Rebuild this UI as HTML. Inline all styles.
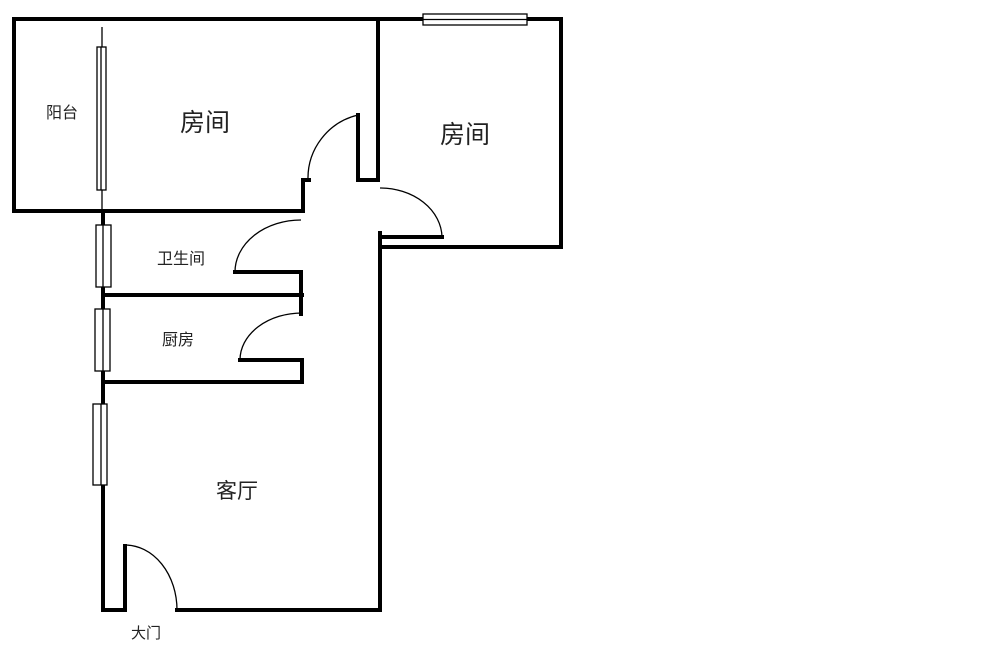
<!DOCTYPE html>
<html><head><meta charset="utf-8"><style>
html,body{margin:0;padding:0;background:#fff;width:1000px;height:664px;overflow:hidden}
svg{display:block}
text{font-family:"Liberation Sans","Noto Sans CJK SC",sans-serif;fill:#222}
</style></head><body>
<svg width="1000" height="664" viewBox="0 0 1000 664" xmlns="http://www.w3.org/2000/svg">
<g stroke="#000" stroke-width="4" fill="none" stroke-linecap="square">
<!-- top wall -->
<line x1="14" y1="19" x2="423" y2="19"/>
<line x1="527" y1="19" x2="561" y2="19"/>
<!-- balcony -->
<line x1="14" y1="19" x2="14" y2="211"/>
<line x1="14" y1="211" x2="302" y2="211"/>
<!-- bedroom1 door jamb -->
<line x1="303" y1="180" x2="303" y2="211"/>
<line x1="303" y1="180" x2="309" y2="180"/>
<line x1="358" y1="115" x2="358" y2="180"/>
<line x1="358" y1="180" x2="378" y2="180"/>
<line x1="378" y1="19" x2="378" y2="180"/>
<!-- bedroom2 -->
<line x1="561" y1="19" x2="561" y2="247"/>
<line x1="380" y1="247" x2="561" y2="247"/>
<line x1="380" y1="237" x2="442" y2="237"/>
<line x1="380" y1="233" x2="380" y2="610"/>
<!-- left wall -->
<line x1="103" y1="211" x2="103" y2="610"/>
<!-- bath/kitchen -->
<line x1="103" y1="295" x2="302" y2="295"/>
<line x1="103" y1="382" x2="302" y2="382"/>
<line x1="235" y1="272" x2="301" y2="272"/>
<line x1="301" y1="272" x2="301" y2="314"/>
<line x1="240" y1="360" x2="302" y2="360"/>
<line x1="302" y1="360" x2="302" y2="382"/>
<!-- bottom -->
<line x1="103" y1="610" x2="125" y2="610"/>
<line x1="125" y1="546" x2="125" y2="610"/>
<line x1="177" y1="610" x2="380" y2="610"/>
</g>
<g stroke="#000" stroke-width="1.3" fill="none">
<line x1="102" y1="27" x2="102" y2="211"/>
<!-- door arcs -->
<path d="M308 180 A65 65 0 0 1 358 115"/>
<path d="M380 188 A62 50 0 0 1 442 237"/>
<path d="M235 272 A66 52 0 0 1 301 220"/>
<path d="M240 360 A62 47 0 0 1 302 313"/>
<path d="M125 545 A52 65 0 0 1 177 610"/>
</g>
<!-- windows -->
<g stroke="#000" stroke-width="1.3" fill="#fff">
<rect x="97" y="47" width="9" height="143"/>
<rect x="96" y="225" width="15" height="62"/>
<rect x="95" y="309" width="15" height="62"/>
<rect x="93" y="404" width="14" height="81"/>
<rect x="423" y="14" width="104" height="11"/>
</g>
<g stroke="#000" stroke-width="1.3">
<line x1="101" y1="47" x2="101" y2="190"/>
<line x1="103" y1="225" x2="103" y2="287"/>
<line x1="103" y1="309" x2="103" y2="371"/>
<line x1="101" y1="404" x2="101" y2="485"/>
<line x1="423" y1="19.5" x2="527" y2="19.5"/>
</g>
<text x="62" y="118" font-size="16" text-anchor="middle">阳台</text>
<text x="205" y="131" font-size="25" text-anchor="middle">房间</text>
<text x="465" y="143" font-size="25" text-anchor="middle">房间</text>
<text x="181" y="264" font-size="16" text-anchor="middle">卫生间</text>
<text x="178" y="345" font-size="16" text-anchor="middle">厨房</text>
<text x="237" y="498" font-size="21" text-anchor="middle">客厅</text>
<text x="146" y="638" font-size="15" text-anchor="middle">大门</text>
</svg>
</body></html>
